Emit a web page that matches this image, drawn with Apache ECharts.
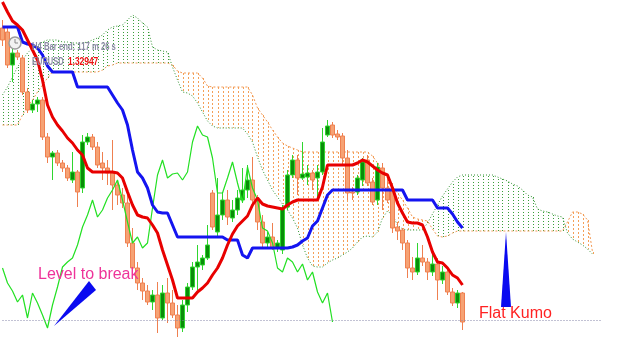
<!DOCTYPE html>
<html><head><meta charset="utf-8">
<script src="https://cdn.jsdelivr.net/npm/echarts@6/dist/echarts.min.js"></script>
<style>html,body{margin:0;padding:0;background:#fff}#c{width:625px;height:359px}</style>
</head><body><div id="c"></div>
<script>
// EURUSD H4 candles (bars 0..92)
const opens=[1.3587,1.3583,1.3550,1.3562,1.3557,1.3523,1.3505,1.3511,1.3515,1.3478,
1.3458,1.3462,1.3452,1.3447,1.3435,1.3443,1.3427,1.3473,1.3478,1.3468,
1.3452,1.3447,1.3442,1.3430,1.3420,1.3412,1.3372,1.3347,1.3332,1.3324,
1.3313,1.3320,1.3297,1.3322,1.3312,1.3300,1.3287,1.3310,1.3328,1.3348,
1.3350,1.3357,1.3422,1.3383,1.3400,1.3415,1.3397,1.3405,1.3415,1.3425,
1.3435,1.3415,1.3393,1.3372,1.3378,1.3367,1.3365,1.3408,1.3440,1.3455,
1.3437,1.3438,1.3442,1.3437,1.3443,1.3480,1.3490,1.3481,1.3479,1.3457,
1.3423,1.3423,1.3435,1.3455,1.3433,1.3415,1.3447,1.3427,1.3425,1.3388,
1.3385,1.3372,1.3347,1.3343,1.3357,1.3353,1.3343,1.3351,1.3335,1.3343,
1.3323,1.3312,1.3322];
const closes=[1.3575,1.3550,1.3562,1.3558,1.3523,1.3505,1.3511,1.3515,1.3478,1.3458,
1.3462,1.3452,1.3447,1.3437,1.3443,1.3423,1.3473,1.3478,1.3468,1.3450,
1.3447,1.3442,1.3430,1.3420,1.3412,1.3372,1.3347,1.3332,1.3324,1.3313,
1.3320,1.3297,1.3322,1.3312,1.3300,1.3287,1.3310,1.3328,1.3348,1.3353,
1.3357,1.3370,1.3388,1.3400,1.3415,1.3398,1.3405,1.3417,1.3425,1.3435,
1.3415,1.3393,1.3372,1.3378,1.3367,1.3372,1.3407,1.3440,1.3455,1.3437,
1.3441,1.3442,1.3435,1.3443,1.3473,1.3489,1.3480,1.3478,1.3457,1.3422,
1.3422,1.3437,1.3453,1.3432,1.3413,1.3448,1.3427,1.3415,1.3387,1.3384,
1.3372,1.3347,1.3343,1.3357,1.3353,1.3343,1.3351,1.3335,1.3343,1.3323,
1.3312,1.3322,1.3293];
const highs=[1.3595,1.3589,1.3568,1.3565,1.3560,1.3527,1.3515,1.3518,1.3518,1.3482,
1.3464,1.3465,1.3455,1.3450,1.3463,1.3445,1.3480,1.3482,1.3481,1.3473,
1.3463,1.3455,1.3475,1.3435,1.3427,1.3420,1.3387,1.3353,1.3337,1.3330,
1.3325,1.3333,1.3330,1.3337,1.3325,1.3310,1.3315,1.3332,1.3353,1.3370,
1.3360,1.3390,1.3425,1.3437,1.3423,1.3425,1.3415,1.3425,1.3447,1.3450,
1.3458,1.3420,1.3400,1.3383,1.3392,1.3375,1.3410,1.3445,1.3460,1.3460,
1.3473,1.3450,1.3445,1.3450,1.3487,1.3495,1.3493,1.3485,1.3482,1.3465,
1.3428,1.3440,1.3457,1.3460,1.3437,1.3452,1.3452,1.3440,1.3432,1.3393,
1.3387,1.3375,1.3358,1.3372,1.3370,1.3357,1.3363,1.3357,1.3349,1.3347,
1.3327,1.3325,1.3323];
const lows=[1.3569,1.3547,1.3533,1.3555,1.3520,1.3502,1.3502,1.3503,1.3475,1.3452,
1.3435,1.3449,1.3443,1.3434,1.3432,1.3408,1.3422,1.3470,1.3465,1.3447,
1.3435,1.3430,1.3405,1.3410,1.3407,1.3368,1.3342,1.3325,1.3315,1.3310,
1.3305,1.3282,1.3295,1.3292,1.3297,1.3278,1.3283,1.3303,1.3325,1.3325,
1.3345,1.3355,1.3385,1.3379,1.3395,1.3390,1.3393,1.3400,1.3412,1.3417,
1.3410,1.3385,1.3368,1.3367,1.3365,1.3363,1.3361,1.3405,1.3437,1.3420,
1.3435,1.3430,1.3425,1.3415,1.3440,1.3478,1.3477,1.3475,1.3450,1.3415,
1.3415,1.3420,1.3429,1.3429,1.3410,1.3410,1.3405,1.3412,1.3382,1.3375,
1.3365,1.3337,1.3335,1.3340,1.3349,1.3335,1.3339,1.3315,1.3331,1.3320,
1.3309,1.3307,1.3285];
// Ichimoku lines
const tenkan=[1.3613,1.3603,1.3594,1.3590,1.3585,1.3575,1.3565,1.3555,1.3535,1.3510,
1.3498,1.3490,1.3484,1.3477,1.3472,1.3465,1.3460,1.3447,1.3443,1.3443,
1.3443,1.3443,1.3443,1.3442,1.3437,1.3423,1.3410,1.3400,1.3398,1.3397,
1.3390,1.3382,1.3365,1.3350,1.3335,1.3317,1.3317,1.3317,1.3317,1.3323,
1.3327,1.3332,1.3340,1.3347,1.3357,1.3370,1.3381,1.3389,1.3394,1.3399,
1.3410,1.3417,1.3411,1.3409,1.3408,1.3407,1.3406,1.3410,1.3413,1.3415,
1.3415,1.3415,1.3415,1.3415,1.3428,1.3450,1.3450,1.3450,1.3450,1.3450,
1.3450,1.3452,1.3455,1.3453,1.3449,1.3445,1.3442,1.3440,1.3427,1.3412,
1.3402,1.3393,1.3392,1.3392,1.3390,1.3378,1.3363,1.3353,1.3352,1.3347,
1.3340,1.3337,1.3330];
const kijun=[1.3588,1.3588,1.3588,1.3588,1.3573,1.3571,1.3570,1.3567,1.3560,1.3549,
1.3543,1.3543,1.3543,1.3543,1.3543,1.3528,1.3528,1.3528,1.3528,1.3528,
1.3528,1.3528,1.3520,1.3512,1.3505,1.3490,1.3465,1.3443,1.3437,1.3427,
1.3410,1.3403,1.3402,1.3402,1.3390,1.3378,1.3378,1.3378,1.3378,1.3378,
1.3378,1.3378,1.3378,1.3378,1.3378,1.3375,1.3375,1.3375,1.3360,1.3357,
1.3367,1.3367,1.3367,1.3367,1.3367,1.3367,1.3367,1.3367,1.3368,1.3370,
1.3374,1.3377,1.3389,1.3394,1.3407,1.3420,1.3425,1.3425,1.3425,1.3425,
1.3425,1.3425,1.3425,1.3425,1.3425,1.3425,1.3425,1.3425,1.3425,1.3425,
1.3425,1.3415,1.3415,1.3415,1.3415,1.3415,1.3415,1.3407,1.3407,1.3407,
1.3401,1.3393,1.3387];
// Senkou spans (bars 0..118, cloud projected 26 bars ahead)
const spanA=[1.3490,1.3490,1.3490,1.3490,1.3500,1.3508,1.3515,1.3523,1.3530,1.3537,
1.3543,1.3543,1.3543,1.3543,1.3543,1.3543,1.3543,1.3543,1.3543,1.3543,
1.3545,1.3549,1.3550,1.3552,1.3552,1.3552,1.3552,1.3552,1.3552,1.3552,
1.3552,1.3552,1.3552,1.3552,1.3550,1.3544,1.3542,1.3542,1.3542,1.3542,
1.3537,1.3529,1.3528,1.3528,1.3528,1.3528,1.3528,1.3528,1.3528,1.3528,
1.3520,1.3507,1.3500,1.3493,1.3485,1.3478,1.3472,1.3469,1.3467,1.3465,
1.3463,1.3463,1.3463,1.3463,1.3463,1.3463,1.3463,1.3463,1.3463,1.3463,
1.3463,1.3463,1.3463,1.3463,1.3459,1.3452,1.3443,1.3437,1.3428,1.3422,
1.3415,1.3407,1.3398,1.3396,1.3395,1.3394,1.3386,1.3379,1.3378,1.3379,
1.3382,1.3384,1.3384,1.3384,1.3384,1.3384,1.3384,1.3384,1.3384,1.3384,
1.3384,1.3384,1.3384,1.3384,1.3384,1.3384,1.3384,1.3384,1.3384,1.3384,
1.3384,1.3384,1.3384,1.3393,1.3403,1.3403,1.3401,1.3395,1.3363];
const spanB=[1.3520,1.3528,1.3538,1.3548,1.3555,1.3562,1.3567,1.3570,1.3573,1.3575,
1.3575,1.3575,1.3573,1.3573,1.3572,1.3572,1.3572,1.3573,1.3575,1.3577,
1.3580,1.3585,1.3588,1.3589,1.3590,1.3595,1.3600,1.3597,1.3592,1.3588,
1.3568,1.3565,1.3564,1.3563,1.3548,1.3535,1.3523,1.3522,1.3519,1.3512,
1.3503,1.3494,1.3489,1.3487,1.3487,1.3487,1.3487,1.3487,1.3487,1.3481,
1.3473,1.3458,1.3445,1.3435,1.3425,1.3418,1.3411,1.3405,1.3397,1.3387,
1.3370,1.3357,1.3349,1.3348,1.3348,1.3352,1.3355,1.3357,1.3360,1.3363,
1.3367,1.3373,1.3378,1.3379,1.3378,1.3383,1.3397,1.3404,1.3400,1.3390,
1.3386,1.3385,1.3385,1.3385,1.3385,1.3392,1.3401,1.3410,1.3419,1.3426,
1.3433,1.3438,1.3440,1.3440,1.3440,1.3440,1.3440,1.3440,1.3440,1.3438,
1.3436,1.3434,1.3431,1.3429,1.3425,1.3420,1.3418,1.3406,1.3404,1.3403,
1.3401,1.3399,1.3398,1.3382,1.3376,1.3373,1.3370,1.3366,1.3361];
const bidPrice = 1.32947;
const CHIKOU_SHIFT = 26;
const NCAT = 125;
const categories = Array.from({length: NCAT}, (_, i) => String(i));

const candleData = opens.map((o, i) => [o, closes[i], lows[i], highs[i]]);
const chikou = closes.slice(CHIKOU_SHIFT);
const cloudData = spanA.map((a, i) => [i, a, spanB[i]]);

const chart = echarts.init(document.getElementById('c'), null, {renderer: 'canvas'});
const FONT = '"Liberation Sans", Arial, sans-serif';
function txt(text, x, y, sx, fill, font) {
  return {type: 'text', z: 100, x: x, y: y, scaleX: sx,
    style: {text: text, fill: fill, font: font, textAlign: 'left', textVerticalAlign: 'middle', align: 'left', verticalAlign: 'middle'}};
}
chart.setOption({
  animation: false,
  backgroundColor: '#ffffff',
  grid: {left: 0, right: 0, top: 0, bottom: 0},
  xAxis: {type: 'category', data: categories, boundaryGap: true, show: false},
  yAxis: {type: 'value', min: 1.3256, max: 1.3615, show: false},
  series: [
    {
      type: 'custom', z: 1, silent: true,
      data: cloudData,
      encode: {x: 0, y: [1, 2]},
      renderItem: function (params, api) {
        const i = api.value(0), a = api.value(1), b = api.value(2);
        const p1 = api.coord([i, a]), p2 = api.coord([i, b]);
        const x = Math.round(p1[0]) + 0.5;
        const up = a > b;
        return {type: 'line', shape: {x1: x, y1: p1[1], x2: x, y2: p2[1]},
          style: {stroke: up ? '#f4a058' : '#3a9e3a', lineWidth: 1, lineDash: up ? [2, 2] : [1, 2]}};
      }
    },
    {type: 'line', z: 2, data: spanA, symbol: 'none', silent: true,
      lineStyle: {color: '#f39a55', width: 1, type: [2, 2]}},
    {type: 'line', z: 2, data: spanB, symbol: 'none', silent: true,
      lineStyle: {color: '#2f922f', width: 1, type: [1, 2]}},
    {type: 'candlestick', z: 3, data: candleData, barWidth: 4, silent: true,
      itemStyle: {color: '#0a8c0a', color0: '#f6a274', borderColor: '#2fd62f', borderColor0: '#ef8050', borderWidth: 1}},
    {type: 'line', z: 4, data: chikou, symbol: 'none', silent: true,
      lineStyle: {color: '#22e022', width: 1.2},
      markLine: {silent: true, symbol: ['none', 'none'], label: {show: false},
        lineStyle: {color: '#8585a8', width: 1, type: [1, 2]},
        data: [[{coord: [0, bidPrice]}, {coord: [120, bidPrice]}]]}},
    {type: 'line', z: 5, data: kijun, symbol: 'none', silent: true,
      lineStyle: {color: '#1414f0', width: 3}},
    {type: 'line', z: 6, data: tenkan, symbol: 'none', silent: true,
      lineStyle: {color: '#e80000', width: 3}}
  ],
  graphic: [
    {type: 'circle', z: 100, shape: {cx: 15, cy: 43, r: 6}, style: {fill: '#f2f2f2', stroke: '#9c9c9c', lineWidth: 1.5}},
    {type: 'line', z: 101, shape: {x1: 15, y1: 43, x2: 15, y2: 39}, style: {stroke: '#888', lineWidth: 1}},
    {type: 'line', z: 101, shape: {x1: 15, y1: 43, x2: 18, y2: 43}, style: {stroke: '#888', lineWidth: 1}},
    txt('H4 Bar end: 117 m 26 s', 32, 47, 0.7, '#8a8aa4', 'bold 11px ' + FONT),
    txt('EURUSD', 32, 62, 0.68, '#8a8aa4', 'bold 11px ' + FONT),
    txt('1.32947', 68, 62, 0.76, '#ee1111', 'bold 11px ' + FONT),
    txt('Level to break', 38, 275, 1, '#ee3399', '16px ' + FONT),
    txt('Flat Kumo', 479, 314, 1, '#ff2222', '16px ' + FONT),
    {type: 'polygon', z: 100, shape: {points: [[54, 326], [89, 281], [96, 290]]}, style: {fill: '#0a0af0'}},
    {type: 'polygon', z: 100, shape: {points: [[506, 232], [501, 307], [511, 307]]}, style: {fill: '#0a0af0'}}
  ]
});
</script>
</body></html>
